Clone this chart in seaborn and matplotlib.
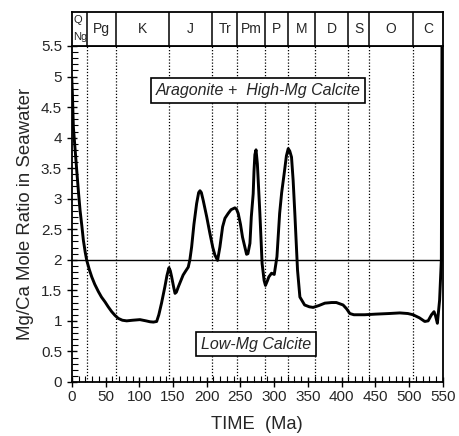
import numpy as np
import pandas as pd
import matplotlib.pyplot as plt
import seaborn as sns
from matplotlib.ticker import MultipleLocator

# age (Ma) and Mg/Ca ratio
age = [0, 1, 2.4, 5, 7.4, 10, 12.3, 15, 17.2, 20, 22.2, 26, 29.6, 34, 39.4, 44,
       49.3, 54, 59.2, 64, 69, 75, 81.4, 90, 101, 110, 116, 121, 125.8, 129,
       133, 138, 141, 144, 146, 148, 151, 153, 155, 158, 165, 169, 172.6, 175,
       177.6, 181, 185, 188, 190, 192, 194.8, 200, 204.7, 209, 212, 216, 219.5,
       223.5, 227, 231.8, 236, 241.7, 244, 246.6, 250, 253, 259, 261, 264, 266,
       268.8, 270, 271.3, 273, 275, 278.7, 282, 285, 287, 290, 292, 296, 300,
       304, 308, 311, 314.7, 318, 320.7, 323, 325.6, 328, 330.5, 334.5, 338,
       345, 352, 357.6, 366, 375, 385, 392, 402, 407, 412, 418, 424, 434, 450,
       470, 486, 498, 505.6, 515, 523, 528, 533, 536.7, 539, 541.7, 545, 547.6,
       548.5]
ratio = [4.98, 4.7, 4.17, 3.8, 3.46, 3.1, 2.81, 2.55, 2.32, 2.12, 1.99, 1.84, 1.72,
         1.6, 1.48, 1.39, 1.31, 1.23, 1.15, 1.09, 1.04, 1.01, 1.0, 1.01, 1.02, 1.0,
         0.985, 0.98, 0.99, 1.1, 1.29, 1.56, 1.74, 1.87, 1.82, 1.72, 1.55, 1.45,
         1.47, 1.56, 1.75, 1.82, 1.88, 2.0, 2.21, 2.58, 2.92, 3.1, 3.13, 3.1, 2.97,
         2.7, 2.43, 2.2, 2.08, 1.99, 2.21, 2.54, 2.68, 2.76, 2.82, 2.85, 2.83, 2.76,
         2.58, 2.37, 2.09, 2.1, 2.27, 2.7, 3.08, 3.45, 3.72, 3.8, 3.57, 2.76, 1.94,
         1.66, 1.58, 1.66, 1.72, 1.78, 1.76, 2.05, 2.76, 3.1, 3.41, 3.7, 3.82,
         3.78, 3.68, 3.3, 2.76, 1.83, 1.39, 1.26, 1.23, 1.22, 1.25, 1.29, 1.3,
         1.3, 1.26, 1.2, 1.12, 1.1, 1.1, 1.1, 1.11, 1.12, 1.13, 1.12, 1.1, 1.05,
         0.99, 1.0, 1.1, 1.15, 1.08, 0.96, 1.34, 2.0, 5.5]

# period boundaries (Ma) and header labels
bounds = [23, 65, 144, 208, 245, 286, 320, 360, 410, 440, 505]
edges = [0] + bounds + [550]
periods = ["", "Pg", "K", "J", "Tr", "Pm", "P", "M", "D", "S", "O", "C"]

df = pd.DataFrame({"age": age, "ratio": ratio})

sns.set_style("ticks")
plt.rcParams["font.family"] = ["Liberation Sans", "DejaVu Sans"]

fig = plt.figure(figsize=(4.6, 4.36), dpi=100)
ax = fig.add_axes([0.156, 0.124, 0.807, 0.7705])
hx = fig.add_axes([0.156, 0.8945, 0.807, 0.078])

sns.lineplot(data=df, x="age", y="ratio", ax=ax, color="black", lw=2.1, sort=False)
ax.lines[-1].set_solid_joinstyle("round")

for b in bounds:
    ax.axvline(b, color="black", lw=0.9, ls=(0, (1, 1.5)), zorder=0)
ax.axhline(2, color="black", lw=1.0, zorder=1)

ax.set_xlim(0, 550)
ax.set_ylim(0, 5.5)
ax.xaxis.set_major_locator(MultipleLocator(50))
ax.xaxis.set_minor_locator(MultipleLocator(10))
ax.yaxis.set_major_locator(MultipleLocator(0.5))
ax.yaxis.set_minor_locator(MultipleLocator(0.1))
ax.set_xticks(np.arange(0, 551, 50))
ax.set_xticklabels([str(v) for v in range(0, 551, 50)])
ax.set_yticks(np.arange(0, 5.51, 0.5))
ax.set_yticklabels(["0", "0.5", "1", "1.5", "2", "2.5", "3", "3.5", "4", "4.5", "5", "5.5"])
ax.tick_params(which="major", direction="inout", length=7, width=1, labelsize=11, color="black")
ax.tick_params(which="minor", direction="in", length=4, width=0.8, color="black")
ax.tick_params(axis="x", pad=2)
ax.set_xlabel("TIME  (Ma)", fontsize=13.2, labelpad=9)
ax.set_ylabel("Mg/Ca Mole Ratio in Seawater", fontsize=13.4, labelpad=5)
for s in ax.spines.values():
    s.set_linewidth(1.3)
    s.set_color("black")

box = dict(boxstyle="square,pad=0.3", fc="white", ec="black", lw=1.2)
ax.text(276, 4.77, "Aragonite +  High-Mg Calcite", ha="center", va="center",
        fontsize=11.5, style="italic", bbox=box)
ax.text(273, 0.62, "Low-Mg Calcite", ha="center", va="center",
        fontsize=11.5, style="italic", bbox=box)

# header band with period names
hx.set_xlim(0, 550)
hx.set_ylim(0, 1)
hx.set_xticks([])
hx.set_yticks([])
for s in hx.spines.values():
    s.set_linewidth(1.3)
    s.set_color("black")
for b in bounds:
    hx.axvline(b, color="black", lw=1.1)
for i, p in enumerate(periods):
    if p:
        hx.text((edges[i] + edges[i + 1]) / 2, 0.5, p, ha="center", va="center", fontsize=10)
hx.text(2, 0.75, "Q", ha="left", va="center", fontsize=8)
hx.text(2, 0.25, "Ng", ha="left", va="center", fontsize=8)

fig.savefig("out.png", dpi=100)
